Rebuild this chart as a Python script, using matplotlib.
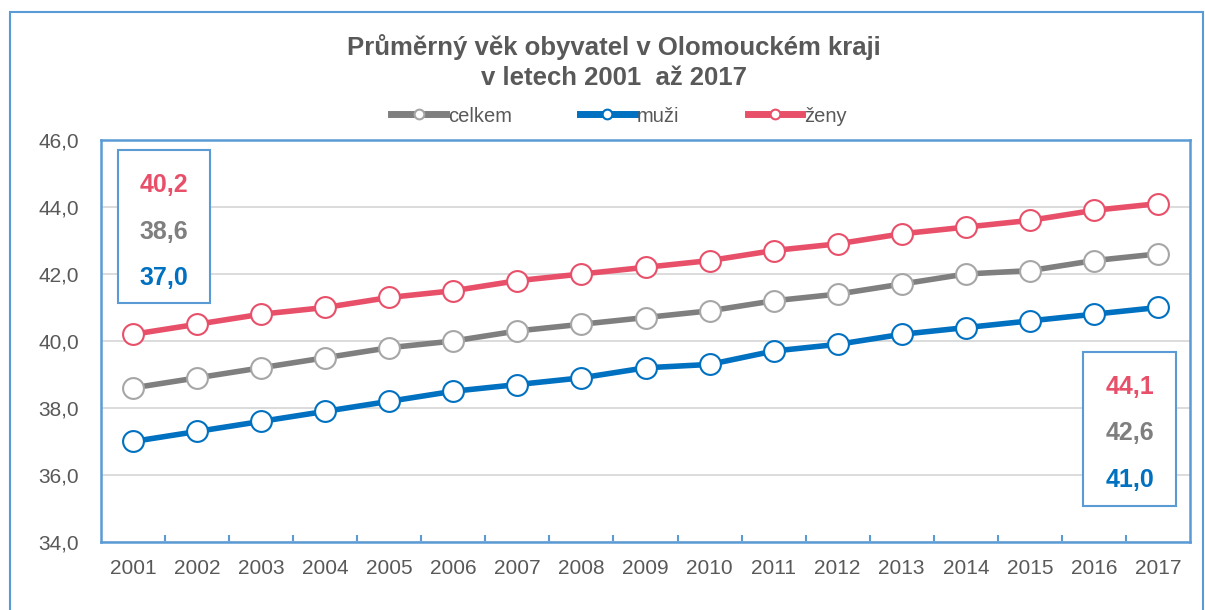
import matplotlib
matplotlib.use("Agg")
import numpy as np
import matplotlib.pyplot as plt
from matplotlib.patches import Rectangle

years = list(range(2001, 2018))
celkem = [38.6, 38.9, 39.2, 39.5, 39.8, 40.0, 40.3, 40.5, 40.7, 40.9, 41.2, 41.4, 41.7, 42.0, 42.1, 42.4, 42.6]
muzi = [37.0, 37.3, 37.6, 37.9, 38.2, 38.5, 38.7, 38.9, 39.2, 39.3, 39.7, 39.9, 40.2, 40.4, 40.6, 40.8, 41.0]
zeny = [40.2, 40.5, 40.8, 41.0, 41.3, 41.5, 41.8, 42.0, 42.2, 42.4, 42.7, 42.9, 43.2, 43.4, 43.6, 43.9, 44.1]
y_ticks = [34, 36, 38, 40, 42, 44, 46]

c_gray = "#7F7F7F"
c_blue = "#0070C0"
c_red = "#E8506A"
frame = "#5B9BD5"
txt = "#595959"

plt.rcParams["font.family"] = ["Liberation Sans", "DejaVu Sans"]

fig = plt.figure(figsize=(12.05, 6.10), dpi=100)
W, H = 1205, 610
ax = fig.add_axes([101 / W, (H - 542) / H, (1190 - 101) / W, (542 - 140) / H])

# outer chart border
fig.patches.append(Rectangle((10 / W, -0.1), (1203 - 10) / W, (H - 12) / H + 0.1,
                             transform=fig.transFigure, fill=False, ec=frame, lw=1.5))

x = np.arange(len(years))
series = [("celkem", celkem, c_gray, "#A6A6A6"),
          ("muži", muzi, c_blue, c_blue),
          ("ženy", zeny, c_red, c_red)]
for name, vals, col, mec in series:
    ax.plot(x, vals, color=col, lw=4, marker="o", ms=15, mfc="white",
            mec=mec, mew=1.5, label=name, zorder=3)

ax.set_xlim(-0.5, len(years) - 0.5)
ax.set_ylim(34, 46)
ax.set_yticks(y_ticks)
ax.set_yticklabels([f"{v:.1f}".replace(".", ",") for v in y_ticks], fontsize=15, color=txt)
ax.set_xticks(x)
ax.set_xticklabels([str(y) for y in years], fontsize=15, color=txt)
ax.tick_params(axis="x", length=0, pad=12)
ax.tick_params(axis="y", length=0, pad=16)
ax.set_xticks(x[:-1] + 0.5, minor=True)
ax.tick_params(axis="x", which="minor", direction="in", length=5, color=frame, width=1.5)
ax.grid(axis="y", color="#D9D9D9", lw=1.3)
ax.set_axisbelow(True)
for s in ax.spines.values():
    s.set_color(frame)
    s.set_linewidth(1.8)

# first / last value boxes
def value_box(x0, y0, x1, y1, idx):
    fig.patches.append(Rectangle((x0 / W, (H - y1) / H), (x1 - x0) / W, (y1 - y0) / H,
                                 transform=fig.transFigure, fill=True, fc="white",
                                 ec=frame, lw=1.5, zorder=5))
    cx = (x0 + x1) / 2 / W
    rows = [(zeny, c_red), (celkem, c_gray), (muzi, c_blue)]
    for k, (vals, col) in enumerate(rows):
        yy = y0 + 35 + k * 46.5
        fig.text(cx, (H - yy) / H, f"{vals[idx]:.1f}".replace(".", ","), ha="center",
                 va="center", fontsize=18, fontweight="bold", color=col, zorder=6)

value_box(118, 150, 210, 303, 0)
value_box(1083, 352, 1176, 506, -1)

fig.text(614 / W, (H - 47) / H, "Průměrný věk obyvatel v Olomouckém kraji",
         ha="center", va="center", fontsize=18.5, fontweight="bold", color=txt)
fig.text(614 / W, (H - 78) / H, "v letech 2001  až 2017",
         ha="center", va="center", fontsize=18.5, fontweight="bold", color=txt)

leg = fig.legend(loc="center", bbox_to_anchor=(619 / W, (H - 116) / H), ncol=3, frameon=False,
                 fontsize=14.5, handlelength=2.7, columnspacing=3.4, handletextpad=0.1)
for h in leg.legend_handles:
    h.set_markersize(7)
    h.set_linewidth(5)
for t in leg.get_texts():
    t.set_color(txt)

fig.savefig("out.png", dpi=100)
